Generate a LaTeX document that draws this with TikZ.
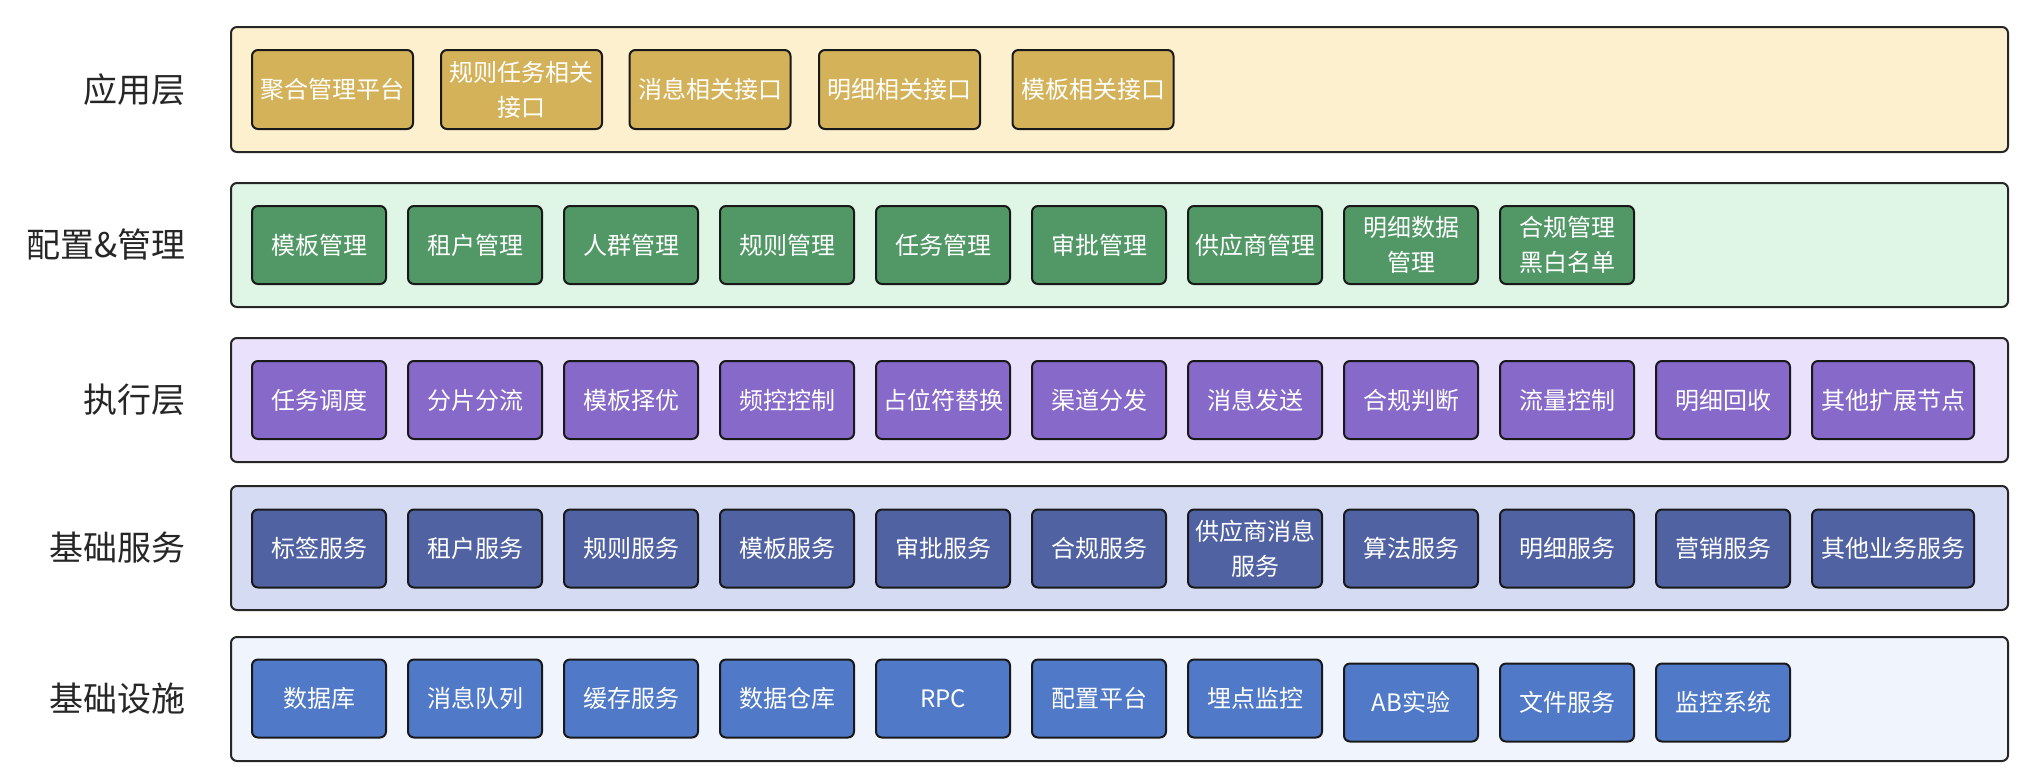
\documentclass[tikz,border=0pt]{standalone}
\usepackage{fontspec}
\setmainfont{Noto Sans CJK SC}

\definecolor{appbg}{HTML}{FDF0CF}
\definecolor{appfg}{HTML}{D4B25A}
\definecolor{cfgbg}{HTML}{DFF5E6}
\definecolor{cfgfg}{HTML}{529866}
\definecolor{exebg}{HTML}{EAE1FD}
\definecolor{exefg}{HTML}{8669C8}
\definecolor{srvbg}{HTML}{D5DBF3}
\definecolor{srvfg}{HTML}{5162A2}
\definecolor{infbg}{HTML}{EFF4FD}
\definecolor{inffg}{HTML}{5079C7}

\tikzset{
  layer/.style={draw=black!85, line width=1pt, rounded corners=3pt},
  item/.style={draw=black!90, line width=1pt, rounded corners=3pt, text=white,
    minimum width=67pt, minimum height=39pt, inner sep=0pt, align=center,
    font=\fontsize{12}{17.5}\selectfont},
  wideitem/.style={item, minimum width=80.5pt, minimum height=39.5pt},
  lname/.style={anchor=east, inner sep=0pt, text=black!85, font=\fontsize{17}{20}\selectfont},
}

\begin{document}
\begin{tikzpicture}[x=0.5pt,y=-0.5pt]
    \useasboundingbox (0,0) rectangle (2033,778);
    % layers
    \draw[layer,fill=appbg] (231,27) rectangle (2008,152);
    \draw[layer,fill=cfgbg] (231,183) rectangle (2008,307);
    \draw[layer,fill=exebg] (231,338) rectangle (2008,462);
    \draw[layer,fill=srvbg] (231,486) rectangle (2008,610);
    \draw[layer,fill=infbg] (231,637) rectangle (2008,761);
    \node[lname] (appname) at (186,89.5) {应用层};
    \node[lname] (cfgname) at (186,245) {配置\&管理};
    \node[lname] (exename) at (186,400) {执行层};
    \node[lname] (srvname) at (186,548) {基础服务};
    \node[lname] (infname) at (186,699) {基础设施};
    % application layer
    \foreach \x/\t [count=\i] in {332.5/聚合管理平台, 521.5/规则任务相关\\接口,
        710/消息相关接口, 899.5/明细相关接口, 1093/模板相关接口}
        \node[wideitem,fill=appfg] (app\i) at (\x,89.5) {\t};
    % config & management
    \foreach \t [count=\i] in {模板管理, 租户管理, 人群管理, 规则管理, 任务管理,
        审批管理, 供应商管理, 明细数据\\管理, 合规管理\\黑白名单}
        \node[item,fill=cfgfg] (cfg\i) at ({319+156*(\i-1)},245) {\t};
    % execution
    \foreach \t [count=\i] in {任务调度, 分片分流, 模板择优, 频控控制, 占位符替换,
        渠道分发, 消息发送, 合规判断, 流量控制, 明细回收}
        \node[item,fill=exefg] (exe\i) at ({319+156*(\i-1)},400) {\t};
    \node[item,fill=exefg,minimum width=81pt] (exe11) at (1893,400) {其他扩展节点};
    % basic services
    \foreach \t [count=\i] in {标签服务, 租户服务, 规则服务, 模板服务, 审批服务,
        合规服务, 供应商消息\\服务, 算法服务, 明细服务, 营销服务}
        \node[item,fill=srvfg] (srv\i) at ({319+156*(\i-1)},548.5) {\t};
    \node[item,fill=srvfg,minimum width=81pt] (srv11) at (1893,548.5) {其他业务服务};
    % infrastructure
    \foreach \t [count=\i] in {数据库, 消息队列, 缓存服务, 数据仓库, RPC, 配置平台, 埋点监控}
        \node[item,fill=inffg] (inf\i) at ({319+156*(\i-1)},698.5) {\t};
    \foreach \t [count=\i from 8] in {AB实验, 文件服务, 监控系统}
        \node[item,fill=inffg] (inf\i) at ({319+156*(\i-1)},702.5) {\t};
\end{tikzpicture}
\end{document}
